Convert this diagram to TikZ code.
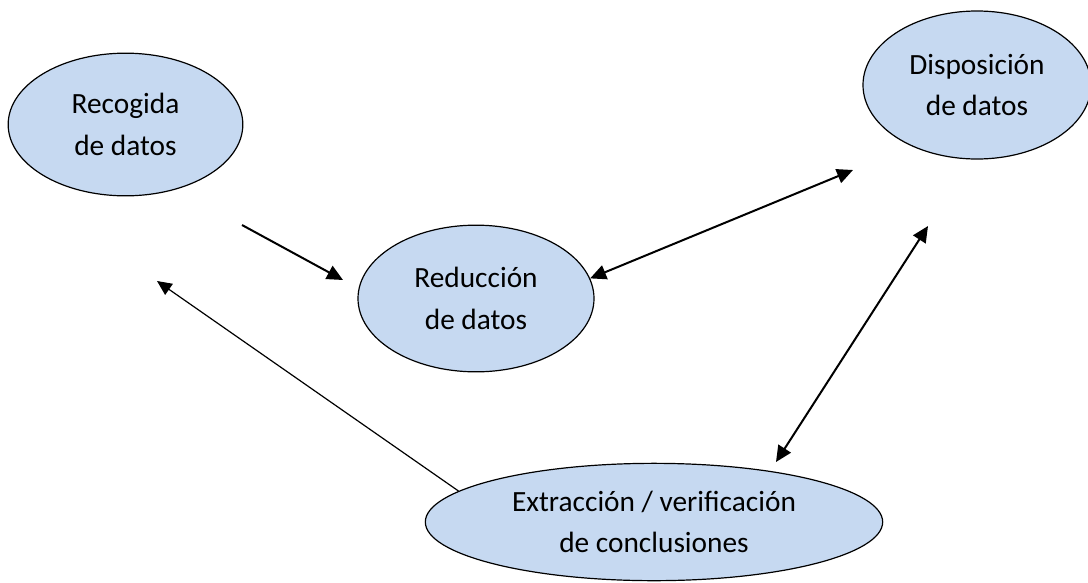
\documentclass[tikz,border=0pt]{standalone}
\usepackage{fontspec}
\setmainfont{Carlito}
\usetikzlibrary{shapes.geometric, arrows.meta}
\definecolor{bubblefill}{RGB}{198,217,241}
\tikzstyle{bubble} = [ellipse, draw=black, line width=0.9pt, fill=bubblefill, inner sep=0pt, align=center, font=\fontsize{22}{31}\selectfont]
\tikzstyle{arrow} = [line width=1.5pt, -{Triangle[length=12pt,width=11pt]}]
\tikzstyle{twoway} = [line width=1.5pt, {Triangle[length=12pt,width=11pt]}-{Triangle[length=12pt,width=11pt]}]
\tikzstyle{back} = [line width=0.9pt, -{Triangle[length=11pt,width=10pt]}]

\begin{document}
\begin{tikzpicture}[x=0.75pt,y=-0.75pt]
\useasboundingbox (0,0) rectangle (1088,582);

\node (rec) [bubble, minimum width=176pt, minimum height=107pt] at (125.5,124.5) {Recogida\\de datos};
\node (red) [bubble, minimum width=177pt, minimum height=110pt] at (476,298.5) {Reducción\\de datos};
\node (dis) [bubble, minimum width=171pt, minimum height=111pt] at (977,85) {Disposición\\de datos};
\node (ext) [bubble, minimum width=343pt, minimum height=88pt] at (654,522) {Extracción / verificación\\de conclusiones};

% loose ends of the arrows
\coordinate (a1s) at (242,225);
\coordinate (a1e) at (343,280);
\coordinate (a2e) at (853,170);
\coordinate (a3s) at (776,462);
\coordinate (a3e) at (928,226);
\coordinate (a4e) at (157,281);

\draw [arrow] (a1s) -- (a1e);
\draw [twoway] (red.10) -- (a2e);
\draw [twoway] (a3s) -- (a3e);
\draw [back] (ext.171) -- (a4e);

\end{tikzpicture}
\end{document}
